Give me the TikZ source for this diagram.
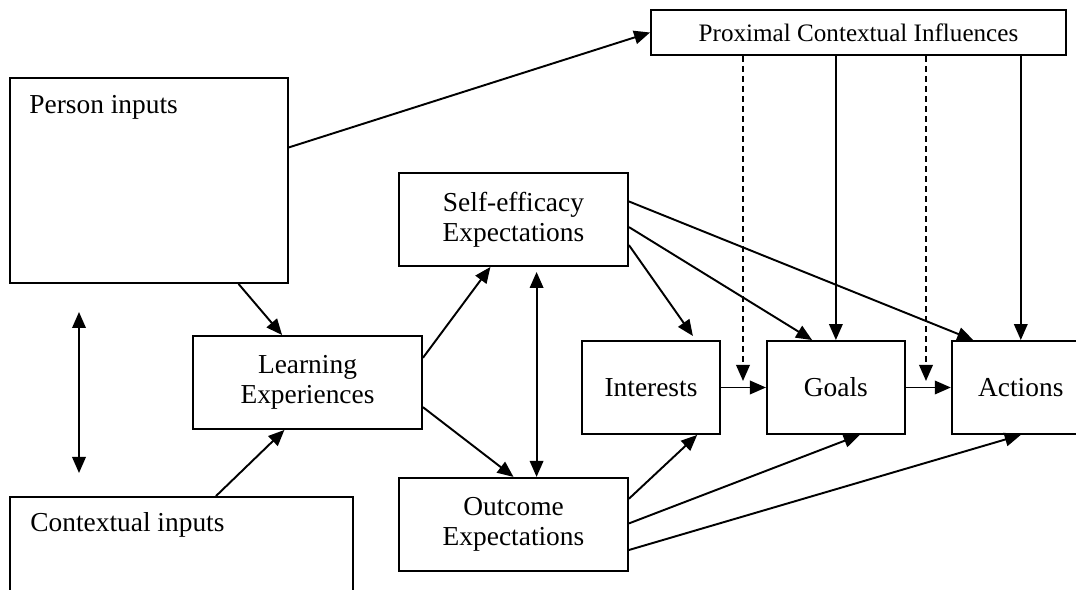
\documentclass[tikz,border=0pt]{standalone}
\usepackage{fontspec}
\setmainfont{Liberation Serif}
\usetikzlibrary{arrows.meta,positioning,calc}

\begin{document}
\begin{tikzpicture}
  [x=0.02cm,y=-0.02cm,
   boxN/.style={rectangle,draw,line width=1.1pt,minimum width=4.58cm,minimum height=1.86cm,align=center,inner sep=0pt},
   smallN/.style={boxN,minimum width=2.76cm},
   bigN/.style={rectangle,draw,line width=1.1pt,minimum width=5.56cm,minimum height=4.1cm},
   txtN/.style={anchor=base west,inner sep=0pt},
   arr/.style={line width=1.1pt,-{Triangle[length=0.32cm,width=0.27cm]}},
   arrB/.style={line width=1.1pt,{Triangle[length=0.32cm,width=0.27cm]}-{Triangle[length=0.32cm,width=0.27cm]}},
   font=\fontsize{15.6}{17}\selectfont]

  \useasboundingbox (0,0) rectangle (1076,590);
  \clip (0,0) rectangle (1076,590);

  \node[bigN] (pi) at (149,180.5) {};
  \node[txtN] (pit) at (29,114) {Person inputs};
  \node[bigN,minimum width=6.86cm] (ci) at (181.5,599.5) {};
  \node[txtN] (cit) at (30,532) {Contextual inputs};

  \node[boxN,minimum width=8.3cm,minimum height=0.9cm,font=\fontsize{14.3}{16}\selectfont] (pc) at (858.5,32.5) {Proximal Contextual Influences};

  \node[boxN] (le) at (307.5,382.5) {Learning\\Experiences};
  \node[boxN] (se) at (513.5,219.5) {Self-efficacy\\Expectations};
  \node[boxN] (oe) [below=4.2cm of se] {Outcome\\Expectations};

  \node[smallN] (it) at (651,387.5) {Interests};
  \node[smallN] (go) [right=0.9cm of it] {Goals};
  \node[smallN] (ac) [right=0.9cm of go] {Actions};

  % inputs
  \draw[arr] ($(pi.north east)!0.34!(pi.south east)$) -- (pc.west);
  \draw[arr] ($(pi.south west)!0.82!(pi.south east)$) -- ($(le.north west)!0.39!(le.north east)$);
  \draw[arr] ($(ci.north west)!0.6!(ci.north east)$) -- ($(le.south west)!0.4!(le.south east)$);
  \coordinate (lu) at (79,312);
  \coordinate (ld) at (79,473);
  \draw[arrB] (lu) -- (ld);

  % learning to expectations
  \draw[arr] ($(le.north east)!0.24!(le.south east)$) -- ($(se.south west)!0.4!(se.south east)$);
  \draw[arr] ($(le.north east)!0.76!(le.south east)$) -- (oe.north);
  \draw[arrB,shorten <=0.1cm] ($(se.south west)!0.6!(se.south east)$) -- ($(oe.north west)!0.6!(oe.north east)$);

  % self-efficacy
  \draw[arr,shorten >=0.1cm] ($(se.north east)!0.77!(se.south east)$) -- ($(it.north west)!0.82!(it.north east)$);
  \draw[arr] ($(se.north east)!0.58!(se.south east)$) -- ($(go.north west)!0.33!(go.north east)$);
  \draw[arr] ($(se.north east)!0.31!(se.south east)$) -- ($(ac.north west)!0.16!(ac.north east)$);

  % outcome
  \draw[arr] ($(oe.north east)!0.23!(oe.south east)$) -- ($(it.south west)!0.83!(it.south east)$);
  \draw[arr] ($(oe.north east)!0.49!(oe.south east)$) -- ($(go.south west)!0.67!(go.south east)$);
  \draw[arr] ($(oe.north east)!0.77!(oe.south east)$) -- (ac.south);

  \draw[arr] (it) -- (go);
  \draw[arr] (go) -- (ac);

  % proximal influences
  \coordinate (d1) at (743,381);
  \coordinate (d2) at (926,381);
  \draw[arr,dash pattern=on 3.4pt off 2.3pt] (pc.south -| d1) -- (d1);
  \draw[arr,dash pattern=on 3.4pt off 2.3pt] (pc.south -| d2) -- (d2);
  \draw[arr] (pc.south -| go.north) -- (go.north);
  \draw[arr] (pc.south -| ac.north) -- (ac.north);
\end{tikzpicture}
\end{document}
